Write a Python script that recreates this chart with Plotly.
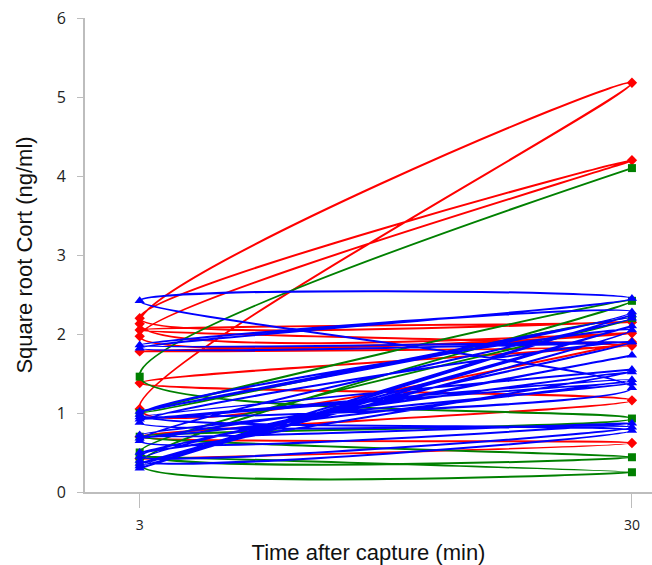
import plotly.graph_objects as go

# Time points (min after capture)
times = [3, 30]

# Red group: per-bird values at 3 and 30 min (in plotted order)
red_pre = [0.42, 0.70, 1.38, 1.78, 2.05, 2.20, 1.97, 2.13, 1.05]
red_post = [0.62, 1.16, 1.88, 1.85, 2.15, 4.20, 2.01, 5.18, 1.90]

# Green group
green_pre = [0.45, 0.35, 1.00, 0.50, 0.70, 1.46]
green_post = [0.25, 2.42, 2.20, 0.44, 0.93, 4.10]

# Blue group
blue_pre = [0.30, 0.33, 0.36, 0.98, 0.40, 0.88, 0.45, 0.50, 0.68, 0.92, 0.72,
            0.65, 1.02, 1.86, 1.82, 2.42, 0.95]
blue_post = [2.24, 2.10, 2.05, 0.78, 1.90, 0.82, 1.73, 1.52, 1.42, 1.38, 0.87,
             2.20, 2.28, 1.90, 2.45, 1.32, 1.55]


def interleave(pre, post):
    xs, ys = [], []
    for a, b in zip(pre, post):
        xs += [times[0], times[1]]
        ys += [a, b]
    return xs, ys


fig = go.Figure()
series = [
    (red_pre, red_post, "#ff0000", "diamond", 8),
    (green_pre, green_post, "#008000", "square", 8),
    (blue_pre, blue_post, "#0000ff", "triangle-up", 9),
]
for pre, post, col, sym, sz in series:
    xs, ys = interleave(pre, post)
    fig.add_trace(go.Scatter(
        x=xs, y=ys, mode="lines+markers",
        line=dict(color=col, width=2, shape="spline", smoothing=1),
        marker=dict(color=col, symbol=sym, size=sz),
        showlegend=False, hoverinfo="skip",
    ))

axis_col = "#bdbdbd"
fig.update_layout(
    width=652, height=565,
    margin=dict(l=85, r=0, t=18, b=73),
    plot_bgcolor="white", paper_bgcolor="white",
    font=dict(family="Open Sans", color="#222222", size=15),
    xaxis=dict(
        range=[0, 31.1], tickvals=times, ticktext=[str(t) for t in times],
        showgrid=False, zeroline=False, showline=True, linecolor=axis_col, linewidth=2,
        ticks="outside", ticklen=14, tickcolor=axis_col, tickwidth=1,
        tickfont=dict(family="Open Sans", size=14, color="#222222"),
        ticklabelstandoff=5,
        title=dict(text="Time after capture (min)", standoff=12,
                   font=dict(family="Liberation Sans", size=22, color="#111111")),
    ),
    yaxis=dict(
        range=[0, 6], tickvals=[0, 1, 2, 3, 4, 5, 6],
        showgrid=False, zeroline=False, showline=True, linecolor=axis_col, linewidth=2,
        ticks="outside", ticklen=6, tickcolor=axis_col, tickwidth=1,
        tickfont=dict(family="Open Sans", size=16, color="#222222"),
        ticklabelstandoff=8,
        title=dict(text="Square root Cort (ng/ml)", standoff=18,
                   font=dict(family="Liberation Sans", size=22, color="#111111")),
    ),
)

fig.write_html("out.html")
